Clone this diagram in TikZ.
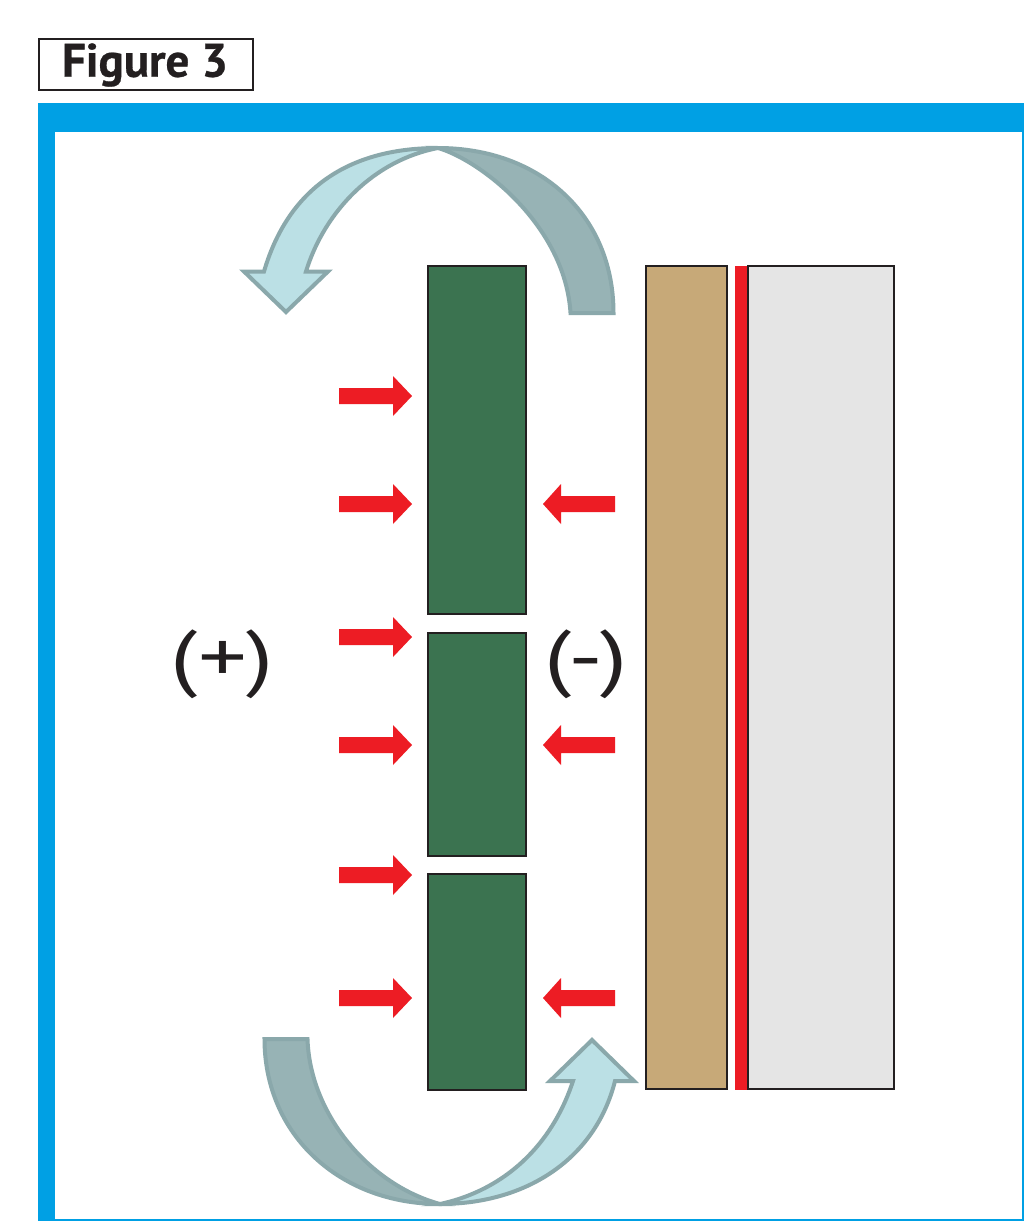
\documentclass[tikz,border=0pt]{standalone}
\usepackage{fontspec}
\setmainfont{PT Sans}
\newfontfamily\titlefont[FakeBold=0.6]{PT Sans Bold}
\definecolor{framecol}{HTML}{00A0E4}
\definecolor{greencol}{HTML}{3B7350}
\definecolor{tancol}{HTML}{C7A978}
\definecolor{graycol}{HTML}{E5E5E5}
\definecolor{redcol}{HTML}{ED1C24}
\definecolor{inkcol}{HTML}{231F20}
\definecolor{arrowedge}{HTML}{8AA8AB}
\definecolor{arrowlight}{HTML}{BBE0E5}
\definecolor{arrowdark}{HTML}{97B3B5}
\tikzset{
  plate/.style={draw=inkcol,line width=2pt},
  flowlight/.style={fill=arrowlight,draw=arrowedge,line width=4pt,miter limit=10},
  flowdark/.style={fill=arrowdark,draw=arrowedge,line width=4pt},
  signlabel/.style={inkcol,font=\fontsize{74}{74}\selectfont,inner sep=0pt},
  rightarrow/.pic={\fill[redcol] (-57,-8) -- (-3,-8) -- (-3,-20) -- (16,0) -- (-3,20) -- (-3,8) -- (-57,8) -- cycle;},
  leftarrow/.pic={\fill[redcol] (36,-8) -- (-18,-8) -- (-18,-20) -- (-36,0) -- (-18,20) -- (-18,8) -- (36,8) -- cycle;}
}
\begin{document}
\begin{tikzpicture}[x=1pt,y=-1pt]
\useasboundingbox (0,0) rectangle (1024,1221);
\fill[white] (0,0) rectangle (1024,1221);
% frame
\fill[framecol] (37.5,103) rectangle (1024,132);
\fill[framecol] (37.5,103) rectangle (55,1221);
\fill[framecol] (55,1219) rectangle (1024,1221);
\fill[framecol] (1022,132) rectangle (1024,1221);
% title
\node[draw=inkcol,line width=2pt,minimum width=214pt,minimum height=51pt,inner sep=0pt,anchor=north west] (title) at (38,38) {};
\node[inkcol,font=\fontsize{47}{47}\selectfont\titlefont] (titletext) at (145,65) {Figure 3};
% plates
\draw[plate,fill=greencol] (428,266) rectangle (525.5,614);
\draw[plate,fill=greencol] (428,633) rectangle (525.5,856);
\draw[plate,fill=greencol] (428,874) rectangle (525.5,1090);
\draw[plate,fill=tancol] (646,266) rectangle (727,1089);
\fill[redcol] (735,266) rectangle (748,1090);
\draw[plate,fill=graycol] (748,266) rectangle (894,1089);
% red arrows
\foreach \yy in {396,504,637,745,875,998} \pic at (396,\yy) {rightarrow};
\foreach \yy in {504,745,998} \pic at (579,\yy) {leftarrow};
% top curved arrow
\draw[flowdark] (613.5,313) .. controls (613.5,215) and (540,148) .. (438,148)
   .. controls (480,160) and (565,225) .. (570.5,313) -- cycle;
\draw[flowlight] (438,148) .. controls (355,148) and (290,183) .. (264,271.5)
   -- (244,271.5) -- (286,312) -- (328,271.5) -- (306,271.5)
   .. controls (325,210) and (375,160) .. (438,148) -- cycle;
% bottom curved arrow
\draw[flowdark] (264.5,1039) .. controls (264.5,1135) and (340,1204) .. (440,1204)
   .. controls (370,1185) and (310,1115) .. (307.5,1039) -- cycle;
\draw[flowlight] (440,1204) .. controls (525,1204) and (595,1160) .. (615,1081)
   -- (634,1081) -- (592,1040) -- (550,1081) -- (573,1081)
   .. controls (552,1145) and (505,1190) .. (440,1204) -- cycle;
% labels
\node[signlabel] (plus) at (222.5,664) {\scalebox{1.31}[1]{(+)}};
\node[signlabel] (minus) at (586,664) {\scalebox{1.31}[1]{(-)}};
\end{tikzpicture}
\end{document}
